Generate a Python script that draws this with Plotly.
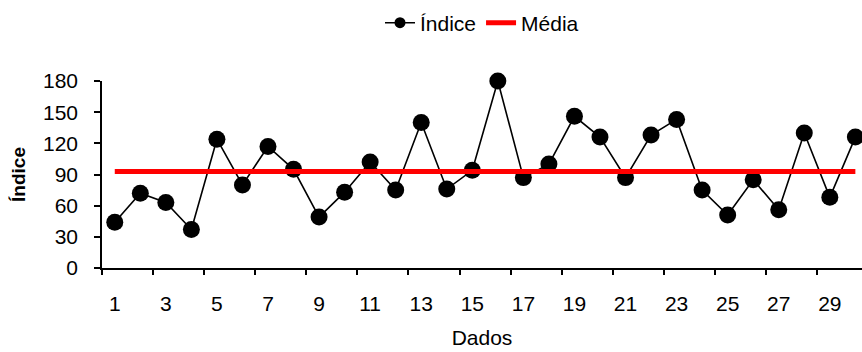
import plotly.graph_objects as go

# Sample index (Dados) and the measured index values
dados = list(range(1, 31))
indice = [44, 72, 63, 37, 124, 80, 117, 95, 49, 73,
          102, 75, 140, 76, 94, 180, 87, 100, 146, 126,
          87, 128, 143, 75, 51, 85, 56, 130, 68, 126]
media = [93] * len(dados)

x_labels = [str(v) for v in range(1, 30, 2)]
x_label_pos = list(range(1, 30, 2))
x_tick_marks = [v + 0.5 for v in range(0, 30, 2)]
y_ticks = [0, 30, 60, 90, 120, 150, 180]

FONT = "Liberation Sans, Arial, sans-serif"
FS = 21

fig = go.Figure()

fig.add_trace(go.Scatter(
    x=dados, y=indice, name="Índice", mode="lines+markers",
    line=dict(color="black", width=1.6),
    marker=dict(color="black", size=17),
    cliponaxis=False, legendgroup="indice", showlegend=False,
))
# legend entry for the index series with a smaller marker
fig.add_trace(go.Scatter(
    x=[None], y=[None], name="Índice", mode="lines+markers",
    line=dict(color="black", width=1.6),
    marker=dict(color="black", size=11),
    legendgroup="indice",
))
fig.add_trace(go.Scatter(
    x=dados, y=media, name="Média", mode="lines",
    line=dict(color="#ff0000", width=5),
    cliponaxis=False,
))
# carrier for the category-boundary tick axis
fig.add_trace(go.Scatter(
    x=[dados[0]], y=[0], xaxis="x2", mode="markers",
    marker=dict(opacity=0), showlegend=False, hoverinfo="skip",
))

fig.update_layout(
    width=862, height=352,
    margin=dict(l=102, r=0, t=81, b=84),
    paper_bgcolor="white", plot_bgcolor="white",
    font=dict(family=FONT, size=FS, color="black"),
    showlegend=True,
    legend=dict(
        orientation="h", x=0.5, xanchor="center",
        y=1.31, yanchor="middle",
        font=dict(family=FONT, size=FS, color="black"),
    ),
    xaxis=dict(
        range=[0.5, 30.26],
        tickmode="array", tickvals=x_label_pos, ticktext=x_labels,
        ticks="", ticklabelstandoff=16,
        showline=True, linecolor="black", linewidth=1.5,
        showgrid=False, zeroline=False,
        title=dict(text="Dados", font=dict(family=FONT, size=FS), standoff=16),
        tickfont=dict(family=FONT, size=FS),
    ),
    xaxis2=dict(
        overlaying="x", matches="x", anchor="y", side="bottom",
        tickmode="array", tickvals=x_tick_marks,
        ticks="outside", ticklen=6, tickwidth=1.5, tickcolor="black",
        showticklabels=False, showline=False, showgrid=False, zeroline=False,
    ),
    yaxis=dict(
        range=[0, 180],
        tickmode="array", tickvals=y_ticks,
        ticks="outside", ticklen=6, tickwidth=1.5, tickcolor="black",
        ticklabelstandoff=12,
        showline=True, linecolor="black", linewidth=1.5,
        showgrid=False, zeroline=False,
        title=dict(text="<b>Índice</b>", font=dict(family=FONT, size=19), standoff=12),
        tickfont=dict(family=FONT, size=FS),
    ),
)

fig.write_html("out.html")
